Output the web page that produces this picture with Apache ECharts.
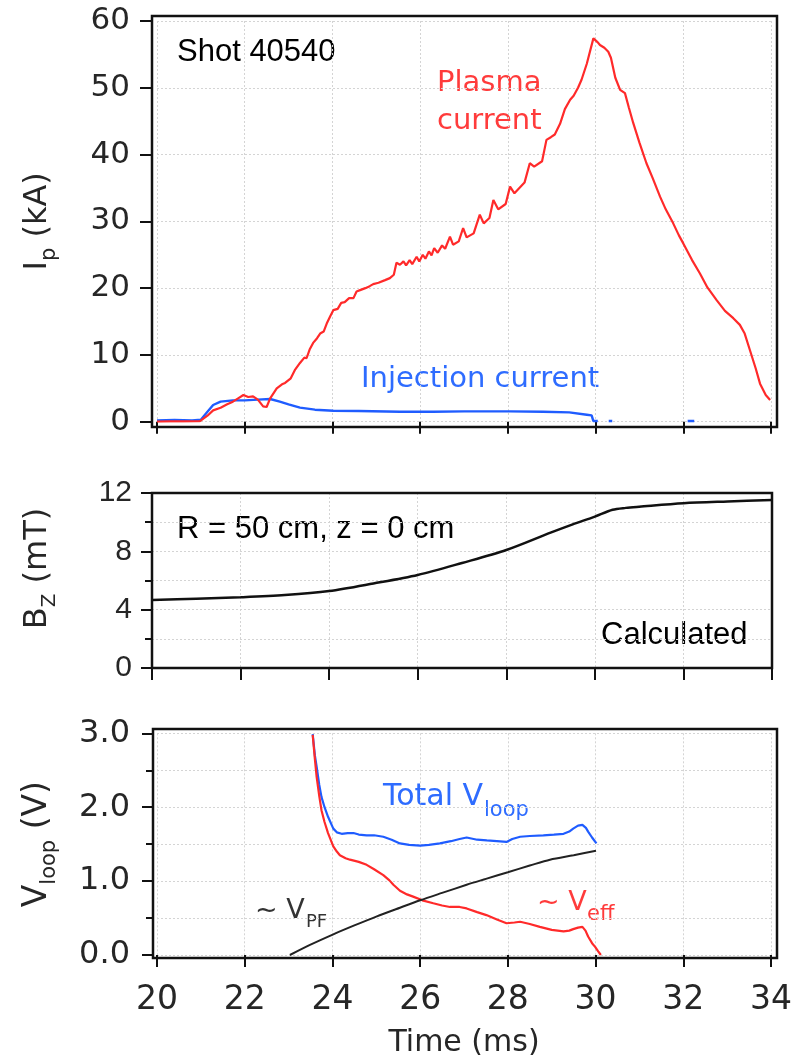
<!DOCTYPE html>
<html><head><meta charset="utf-8">
<script src="https://cdn.jsdelivr.net/npm/echarts@6/dist/echarts.min.js"></script>
<style>html,body{margin:0;padding:0;background:#fff}#c{width:801px;height:1062px}</style>
</head><body><div id="c"></div>
<script>
// ---- data ----
const timeTicks = [20, 22, 24, 26, 28, 30, 32, 34];

const plasmaT = [20.0,20.3,20.6,20.98,21.15,21.28,21.45,21.6,21.73,21.85,21.97,22.08,22.19,22.3,22.42,22.5,22.58,22.73,22.85,22.92,23.05,23.15,23.26,23.36,23.41,23.48,23.56,23.65,23.72,23.8,23.87,23.95,24.02,24.12,24.2,24.28,24.38,24.48,24.55,24.63,24.75,24.85,24.93,25.05,25.2,25.31,25.4,25.46,25.54,25.62,25.68,25.76,25.82,25.92,25.98,26.06,26.12,26.2,26.26,26.32,26.4,26.5,26.57,26.68,26.75,26.88,26.98,27.06,27.22,27.36,27.45,27.58,27.67,27.78,27.95,28.05,28.15,28.38,28.5,28.6,28.78,28.88,28.98,29.07,29.19,29.3,29.42,29.5,29.6,29.68,29.8,29.95,30.05,30.1,30.2,30.29,30.35,30.45,30.56,30.67,30.76,30.86,31.0,31.16,31.3,31.47,31.6,31.77,31.9,32.0,32.2,32.38,32.55,32.76,32.95,33.14,33.29,33.4,33.52,33.65,33.75,33.88,33.98];
const plasmaI = [0.0,0.05,0.05,0.1,0.9,1.7,2.1,2.6,3.0,3.5,4.0,3.7,3.8,3.3,2.3,2.2,3.5,5.0,5.6,5.8,6.5,7.8,8.8,9.6,9.5,10.8,11.8,12.5,13.2,13.5,14.7,15.8,16.7,16.9,17.8,17.9,18.5,18.5,19.5,19.7,20.0,20.3,20.6,20.8,21.2,21.5,22.0,23.8,23.5,24.0,23.4,24.2,23.6,24.7,24.0,25.0,24.4,25.5,24.9,26.0,25.3,26.4,25.9,27.7,26.5,27.0,29.0,27.6,28.2,31.0,29.7,30.5,33.2,31.8,32.6,35.2,34.2,35.8,38.7,38.2,39.0,42.2,42.6,43.0,44.6,46.8,48.2,48.8,50.0,51.2,53.6,57.4,56.8,56.4,56.0,55.4,54.5,51.5,49.7,49.2,47.0,44.7,41.8,38.7,36.5,33.7,31.8,29.7,27.9,26.7,24.2,22.2,20.1,18.2,16.6,15.5,14.5,13.2,10.7,8.0,5.7,4.0,3.25];

const injT = [20.0,20.4,20.8,21.0,21.15,21.28,21.45,21.73,22.0,22.3,22.58,22.8,23.0,23.26,23.6,24.02,24.6,25.54,26.3,27.0,28.05,28.8,29.4,29.8,29.91,29.95,30.05,30.12,30.3,30.38,30.5,32.1,32.25,32.4,32.55];
const injI = [0.2,0.25,0.2,0.3,1.5,2.5,3.0,3.2,3.2,3.3,3.4,3.0,2.6,2.1,1.8,1.65,1.6,1.5,1.5,1.55,1.55,1.5,1.4,1.05,0.95,0.1,0.1,null,0.1,0.1,null,0.1,0.1,null,0.1];

const bzT = [20,21,22,23,24,25,26,27,28,29,29.5,30,30.4,30.7,31,32,33,34];
const bzV = [4.66,4.75,4.85,5.0,5.28,5.8,6.38,7.2,8.09,9.28,9.85,10.38,10.85,10.98,11.06,11.3,11.42,11.52];

const vloopT = [23.55,23.6,23.64,23.7,23.75,23.82,23.9,24.02,24.1,24.21,24.35,24.48,24.6,24.78,24.95,25.16,25.35,25.54,25.75,26.0,26.2,26.45,26.7,26.9,27.06,27.3,27.52,27.75,27.97,28.1,28.28,28.5,28.81,29.05,29.27,29.4,29.49,29.6,29.7,29.78,29.83,29.92,30.02];
const vloopV = [2.99,2.7,2.55,2.3,2.14,2.0,1.87,1.71,1.66,1.64,1.65,1.65,1.63,1.62,1.62,1.60,1.56,1.51,1.49,1.48,1.49,1.51,1.54,1.57,1.59,1.56,1.55,1.54,1.53,1.57,1.60,1.61,1.62,1.63,1.64,1.67,1.71,1.75,1.76,1.72,1.67,1.59,1.51];

const veffT = [23.55,23.6,23.64,23.7,23.75,23.82,23.9,24.02,24.1,24.17,24.3,24.4,24.6,24.78,24.95,25.16,25.3,25.39,25.54,25.7,25.84,26.05,26.3,26.5,26.68,26.9,27.06,27.3,27.51,27.75,27.97,28.15,28.28,28.5,28.73,29.0,29.27,29.4,29.49,29.6,29.7,29.77,29.83,29.92,29.99,30.06,30.12];
const veffV = [2.98,2.65,2.41,2.15,1.96,1.8,1.65,1.47,1.40,1.35,1.31,1.29,1.26,1.22,1.16,1.08,1.01,0.95,0.87,0.82,0.79,0.74,0.70,0.67,0.65,0.65,0.63,0.58,0.54,0.48,0.43,0.44,0.45,0.42,0.38,0.34,0.32,0.33,0.35,0.37,0.38,0.33,0.25,0.16,0.11,0.05,0.0];

const vpfT = [23.03,23.5,24.02,24.5,25.0,25.54,26.0,26.5,27.06,27.5,28.0,28.5,28.96,29.5,30.01];
const vpfV = [0.0,0.14,0.28,0.40,0.52,0.64,0.74,0.84,0.95,1.03,1.12,1.21,1.29,1.35,1.41];

// ---- helpers ----
const zip = (a, b) => a.map((t, i) => [t, b[i]]);
const RED = '#ff2a2a', BLUE = '#1f5cff', INK = '#111', LBL = '#262626';
const DJ = 'DejaVu Sans', LIB = 'Liberation Sans';
const gridLine = { show: true, lineStyle: { color: '#d4d4d4', width: 1, type: [2, 2] } };
const tick = (len) => ({ show: true, length: len, lineStyle: { color: INK, width: 2 } });
const frame = (left, top, width, height) => ({ left, top, width, height, show: true, z: 10, borderColor: INK, borderWidth: 2.5, backgroundColor: 'transparent', outerBoundsMode: 'none' });

function xData(grid, offset, showLabels) {
  return {
    type: 'value', gridIndex: grid, min: timeTicks[0], max: timeTicks[timeTicks.length - 1], interval: 2,
    offset: offset, axisLine: { show: false }, axisTick: tick(12),
    axisLabel: { show: showLabels, fontFamily: DJ, fontSize: 33, color: LBL, margin: 26 },
    splitLine: gridLine
  };
}
const hidden = (grid) => ({ type: 'value', gridIndex: grid, show: false, min: 0, max: 1 });

const chart = echarts.init(document.getElementById('c'), null, { renderer: 'canvas' });
chart.setOption({
  animation: false,
  backgroundColor: '#fff',
  grid: [
    { left: 157, top: 21, width: 614, height: 400.7, outerBoundsMode: 'none' },
    frame(152, 16, 625, 411),
    { left: 152, top: 493, width: 620, height: 175, outerBoundsMode: 'none' },
    { left: 157, top: 733.3, width: 614, height: 221.7, outerBoundsMode: 'none' },
    frame(153, 729, 624, 229),
    frame(152, 493, 620, 175)
  ],
  xAxis: [
    xData(0, 5, false),
    hidden(1),
    xData(2, 0, false),
    Object.assign(xData(3, 3, true), {
      name: 'Time (ms)', nameLocation: 'middle', nameGap: 70,
      nameTextStyle: { fontFamily: DJ, fontSize: 30, color: LBL }
    }),
    hidden(4),
    hidden(5)
  ],
  yAxis: [
    {
      type: 'value', gridIndex: 0, min: 0, max: 60, interval: 10, offset: 5,
      axisLine: { show: false }, axisTick: tick(12),
      axisLabel: { fontFamily: DJ, fontSize: 31, color: LBL, margin: 22 },
      splitLine: gridLine,
      name: '{m|I}{s|p}{m| (kA)}', nameLocation: 'middle', nameRotate: 90, nameGap: 92,
      nameTextStyle: { rich: {
        m: { fontFamily: DJ, fontSize: 32, color: LBL },
        s: { fontFamily: DJ, fontSize: 21, color: LBL, padding: [24, 0, 0, 0] }
      } }
    },
    hidden(1),
    {
      type: 'value', gridIndex: 2, min: 0, max: 12, interval: 4,
      axisLine: { show: false }, axisTick: tick(11),
      minorTick: { show: true, splitNumber: 2, length: 7, lineStyle: { color: INK, width: 2 } },
      minorSplitLine: gridLine,
      axisLabel: { fontFamily: LIB, fontSize: 30, color: LBL, margin: 20 },
      splitLine: gridLine,
      name: '{m0|B}{s|Z}{m| (mT)}', nameLocation: 'middle', nameRotate: 90, nameGap: 92,
      nameTextStyle: { rich: {
        m0: { fontFamily: DJ, fontSize: 32, color: LBL, padding: [0, 0, 0, 24] },
        m: { fontFamily: DJ, fontSize: 32, color: LBL },
        s: { fontFamily: DJ, fontSize: 20, color: LBL, padding: [24, 0, 0, 0] }
      } }
    },
    {
      type: 'value', gridIndex: 3, min: 0, max: 3, interval: 1, offset: 4,
      axisLine: { show: false }, axisTick: tick(11),
      minorTick: { show: true, splitNumber: 2, length: 7, lineStyle: { color: INK, width: 2 } },
      minorSplitLine: gridLine,
      axisLabel: { fontFamily: DJ, fontSize: 32, color: LBL, margin: 23, formatter: (v) => v.toFixed(1) },
      splitLine: gridLine,
      name: '{m|V}{s|loop}{m| (V)}', nameLocation: 'middle', nameRotate: 90, nameGap: 93,
      nameTextStyle: { rich: {
        m: { fontFamily: DJ, fontSize: 33, color: LBL },
        s: { fontFamily: DJ, fontSize: 21, color: LBL, padding: [24, 0, 0, 0] }
      } }
    },
    hidden(4),
    hidden(5)
  ],
  series: [
    { name: 'Plasma current', type: 'line', xAxisIndex: 0, yAxisIndex: 0, data: zip(plasmaT, plasmaI), showSymbol: false, lineStyle: { color: RED, width: 2.2 }, z: 3 },
    { name: 'Injection current', type: 'line', xAxisIndex: 0, yAxisIndex: 0, data: zip(injT, injI), showSymbol: false, connectNulls: false, lineStyle: { color: BLUE, width: 2.4 }, z: 2 },
    { name: 'Bz', type: 'line', xAxisIndex: 2, yAxisIndex: 2, data: zip(bzT, bzV), showSymbol: false, smooth: 0.3, lineStyle: { color: INK, width: 2.5 } },
    { name: 'Total Vloop', type: 'line', xAxisIndex: 3, yAxisIndex: 3, data: zip(vloopT, vloopV), showSymbol: false, lineStyle: { color: BLUE, width: 2.2 } },
    { name: 'Veff', type: 'line', xAxisIndex: 3, yAxisIndex: 3, data: zip(veffT, veffV), showSymbol: false, lineStyle: { color: RED, width: 2.2 } },
    { name: 'VPF', type: 'line', xAxisIndex: 3, yAxisIndex: 3, data: zip(vpfT, vpfV), showSymbol: false, smooth: 0.3, lineStyle: { color: '#222', width: 2 } }
  ],
  graphic: [
    { type: 'text', x: 177, y: 37, style: { text: 'Shot 40540', fontFamily: LIB, fontSize: 31, fill: '#000' } },
    { type: 'text', x: 437, y: 64, style: { text: 'Plasma\ncurrent', fontFamily: DJ, fontSize: 29, lineHeight: 38, fill: '#ff3b3b' } },
    { type: 'text', x: 361, y: 365, style: { text: 'Injection current', fontFamily: DJ, fontSize: 29, fill: '#2e6cff' } },
    { type: 'text', x: 177, y: 514, style: { text: 'R = 50 cm, z = 0 cm', fontFamily: LIB, fontSize: 31, fill: '#000' } },
    { type: 'text', x: 601, y: 620, style: { text: 'Calculated', fontFamily: LIB, fontSize: 31, fill: '#000' } },
    { type: 'text', x: 383, y: 782, style: { text: 'Total V', fontFamily: DJ, fontSize: 30, fill: '#2e6cff' } },
    { type: 'text', x: 484, y: 800, style: { text: 'loop', fontFamily: DJ, fontSize: 21, fill: '#2e6cff' } },
    { type: 'text', x: 255, y: 897, style: { text: '~ V', fontFamily: DJ, fontSize: 27, fill: '#333' } },
    { type: 'text', x: 306, y: 913, style: { text: 'PF', fontFamily: DJ, fontSize: 18, fill: '#333' } },
    { type: 'text', x: 537, y: 889, style: { text: '~ V', fontFamily: DJ, fontSize: 27, fill: '#ff3b3b' } },
    { type: 'text', x: 587, y: 904, style: { text: 'eff', fontFamily: DJ, fontSize: 21, fill: '#ff3b3b' } }
  ]
});
</script>
</body></html>
